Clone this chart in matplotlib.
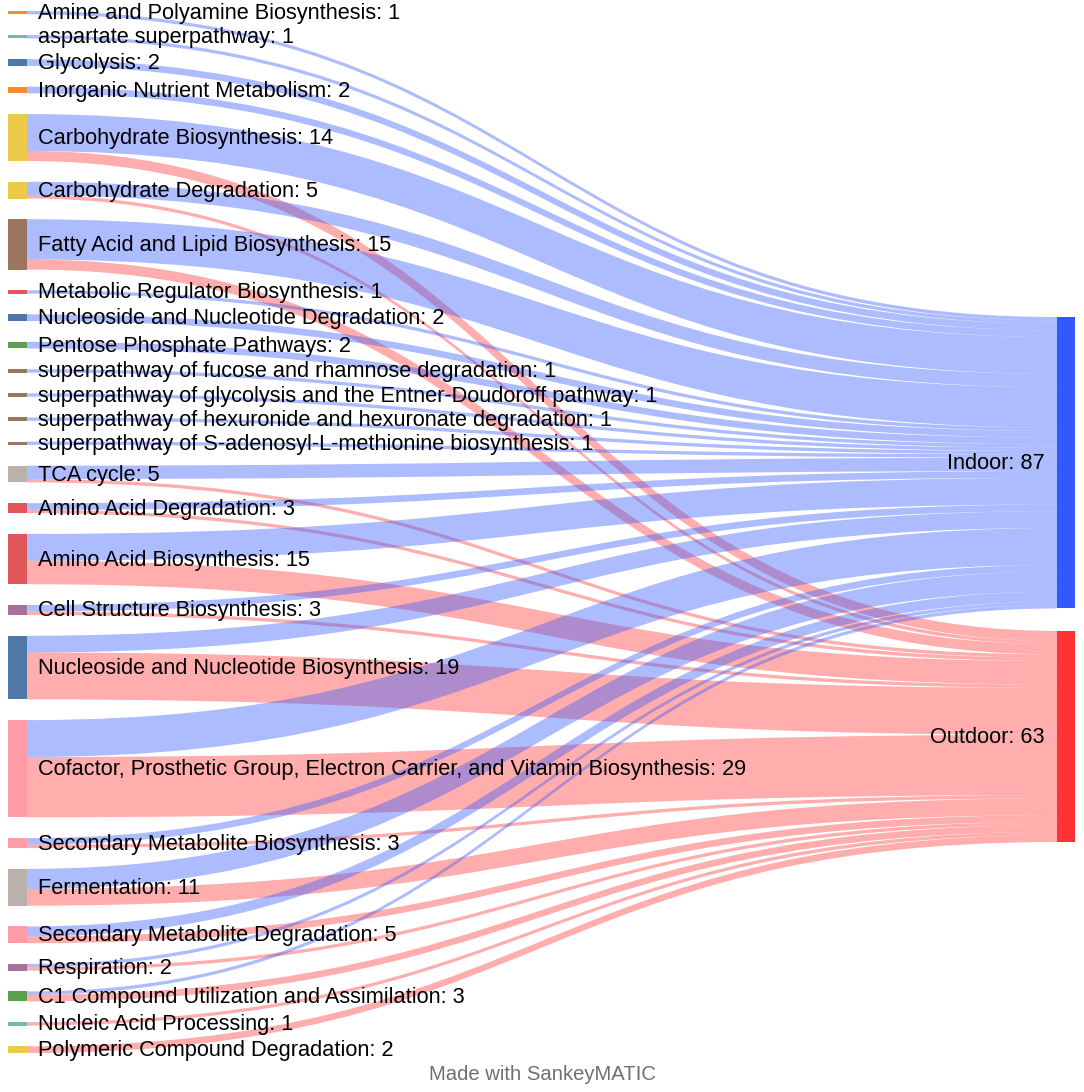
import matplotlib
matplotlib.use("Agg")
import matplotlib.pyplot as plt
from matplotlib.path import Path
from matplotlib.patches import PathPatch, Rectangle

plt.rcParams['font.family'] = ['Liberation Sans', 'DejaVu Sans']

# source categories (top to bottom) and how many go to each target
pathways = [
    "Amine and Polyamine Biosynthesis",
    "aspartate superpathway",
    "Glycolysis",
    "Inorganic Nutrient Metabolism",
    "Carbohydrate Biosynthesis",
    "Carbohydrate Degradation",
    "Fatty Acid and Lipid Biosynthesis",
    "Metabolic Regulator Biosynthesis",
    "Nucleoside and Nucleotide Degradation",
    "Pentose Phosphate Pathways",
    "superpathway of fucose and rhamnose degradation",
    "superpathway of glycolysis and the Entner-Doudoroff pathway",
    "superpathway of hexuronide and hexuronate degradation",
    "superpathway of S-adenosyl-L-methionine biosynthesis",
    "TCA cycle",
    "Amino Acid Degradation",
    "Amino Acid Biosynthesis",
    "Cell Structure Biosynthesis",
    "Nucleoside and Nucleotide Biosynthesis",
    "Cofactor, Prosthetic Group, Electron Carrier, and Vitamin Biosynthesis",
    "Secondary Metabolite Biosynthesis",
    "Fermentation",
    "Secondary Metabolite Degradation",
    "Respiration",
    "C1 Compound Utilization and Assimilation",
    "Nucleic Acid Processing",
    "Polymeric Compound Degradation",
]
indoor = [1, 1, 2, 2, 11, 4, 12, 1, 2, 2, 1, 1, 1, 1, 4, 2, 8, 2, 5, 11, 2, 6, 3, 1, 1, 0, 0]
outdoor = [0, 0, 0, 0, 3, 1, 3, 0, 0, 0, 0, 0, 0, 0, 1, 1, 7, 1, 14, 18, 1, 5, 2, 1, 2, 1, 2]
targets = ["Indoor", "Outdoor"]

# node colours (tableau-like palette)
orange, teal, blue, yellow = '#f28e2b', '#76b7b2', '#4e79a7', '#edc948'
brown, red, green, purple = '#9c755f', '#e15759', '#59a14f', '#a8719a'
pink, grey = '#ff9da7', '#bab0ac'
node_colors = [orange, teal, blue, orange, yellow, yellow, brown, red, blue, green,
               brown, brown, brown, brown, grey, red, red, purple, blue, pink,
               pink, grey, pink, purple, green, teal, yellow]
target_colors = ['#3358ff', '#ff3333']

W, H = 1084, 1092
fig = plt.figure(figsize=(W / 100, H / 100), dpi=100)
ax = fig.add_axes([0, 0, 1, 1])
ax.set_xlim(0, W)
ax.set_ylim(H, 0)
ax.axis('off')

# layout
k = 3.35
left_x0, left_x1 = 8, 27
right_x0, right_x1 = 1057, 1075
top, bottom = 11, 1053
totals = [a + b for a, b in zip(indoor, outdoor)]
gap = (bottom - top - k * sum(totals)) / (len(totals) - 1)

src_top = []
y = top
for t in totals:
    src_top.append(y)
    y += t * k + gap

tgt_vals = [sum(indoor), sum(outdoor)]
tgt_top = [317, 317 + tgt_vals[0] * k + 22.5]


def flow(y0a, y0b, y1a, y1b, color):
    xm = (left_x1 + right_x0) / 2
    verts = [(left_x1, y0a), (xm, y0a), (xm, y1a), (right_x0, y1a),
             (right_x0, y1b), (xm, y1b), (xm, y0b), (left_x1, y0b), (left_x1, y0a)]
    codes = [Path.MOVETO, Path.CURVE4, Path.CURVE4, Path.CURVE4,
             Path.LINETO, Path.CURVE4, Path.CURVE4, Path.CURVE4, Path.CLOSEPOLY]
    ax.add_patch(PathPatch(Path(verts, codes), facecolor=color, alpha=0.4,
                           edgecolor='none', zorder=1))


tgt_cursor = list(tgt_top)
for i in range(len(pathways)):
    yc = src_top[i]
    for j, vals in enumerate([indoor, outdoor]):
        v = vals[i]
        if v == 0:
            continue
        flow(yc, yc + v * k, tgt_cursor[j], tgt_cursor[j] + v * k, target_colors[j])
        yc += v * k
        tgt_cursor[j] += v * k

for i, name in enumerate(pathways):
    h = totals[i] * k
    ax.add_patch(Rectangle((left_x0, src_top[i]), left_x1 - left_x0, h,
                           facecolor=node_colors[i], edgecolor='none', zorder=2))
    ax.text(38, src_top[i] + h / 2 + 1, f"{name}: {totals[i]}", ha='left', va='center',
            fontsize=15.7, color='black', zorder=3)

for j, name in enumerate(targets):
    h = tgt_vals[j] * k
    ax.add_patch(Rectangle((right_x0, tgt_top[j]), right_x1 - right_x0, h,
                           facecolor=target_colors[j], edgecolor='none', zorder=2))
    ax.text(1045, tgt_top[j] + h / 2 + 1, f"{name}: {tgt_vals[j]}", ha='right', va='center',
            fontsize=15.7, color='black', zorder=3)

ax.text(W / 2, 1075, "Made with SankeyMATIC", ha='center', va='center',
        fontsize=14.6, color='#707070')

fig.savefig("out.png", dpi=100)
